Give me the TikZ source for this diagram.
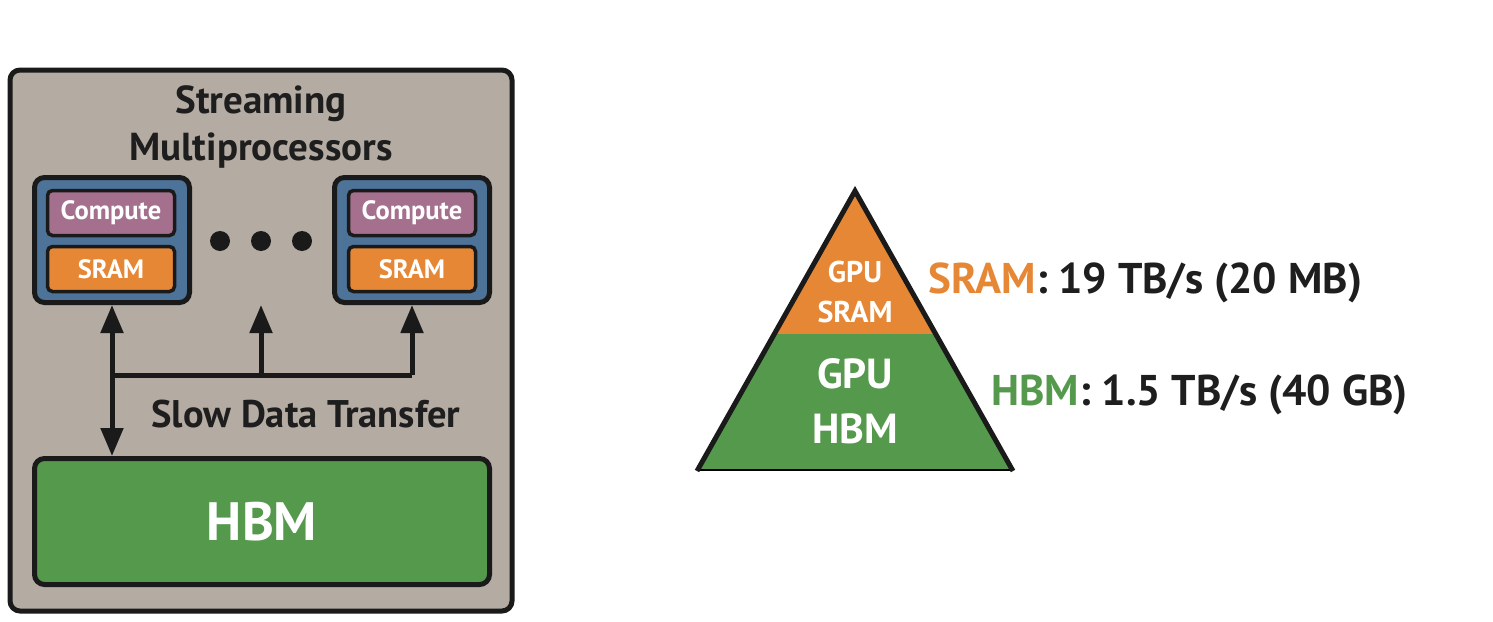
\documentclass[tikz,border=0pt]{standalone}
\usepackage{fontspec}
\setmainfont{PT Sans}
\usepackage{tikz}
\usetikzlibrary{arrows.meta}
\usetikzlibrary{positioning}

\definecolor{gpugrey}{RGB}{180,171,162}
\definecolor{smblue}{RGB}{78,115,153}
\definecolor{cmppurple}{RGB}{165,112,142}
\definecolor{sramorange}{RGB}{230,135,53}
\definecolor{hbmgreen}{RGB}{85,153,77}
\definecolor{linecol}{RGB}{26,26,26}
\definecolor{txtcol}{RGB}{30,30,30}
\definecolor{baseline}{RGB}{110,170,175}

\begin{document}
\begin{tikzpicture}
	[
	x=1pt, y=-1pt,
	> = {Triangle[width=22pt,length=28pt]},
	frame/.style = {draw=linecol, line width=5pt, rounded corners=10pt},
	unit/.style = {draw=linecol, line width=3.5pt, rounded corners=5pt, minimum width=127pt, minimum height=45pt, inner sep=0pt, text=white, font=\bfseries\fontsize{26.5}{30}\selectfont},
	dot/.style = {circle, fill=linecol, minimum size=20pt, inner sep=0pt},
	label/.style = {text=txtcol, font=\bfseries\fontsize{38.5}{47}\selectfont},
	rate/.style = {text=txtcol, anchor=base west, font=\bfseries\fontsize{43}{48}\selectfont},
	bus/.style = {draw=linecol, line width=5pt}
	]
	\useasboundingbox (0,0) rectangle (1493,621);

	% GPU with streaming multiprocessors
	\node[frame, fill=gpugrey, minimum width=502pt, minimum height=541pt] (gpu) at (261,340.5) {};
	\node[label, align=center, anchor=base, font=\bfseries\fontsize{39}{47}\selectfont] (title) at (261,160) {Streaming\\Multiprocessors};

	\node[frame, fill=smblue, minimum width=155pt, minimum height=125pt] (smA) at (112,240) {};
	\node[unit, fill=cmppurple] (cmpA) at (111,213) {Compute};
	\node[unit, fill=sramorange] (sramA) at (111,269) {SRAM};

	\node[frame, fill=smblue, minimum width=155pt, minimum height=125pt] (smB) at (412,240) {};
	\node[unit, fill=cmppurple] (cmpB) at (412,213) {Compute};
	\node[unit, fill=sramorange] (sramB) at (412,269) {SRAM};

	\node[dot] (dotA) at (220,241) {};
	\node[dot] (dotB) at (261,241) {};
	\node[dot] (dotC) at (302,241) {};

	\node[frame, fill=hbmgreen, minimum width=455pt, minimum height=126pt, text=white, font=\bfseries\fontsize{54}{60}\selectfont] (hbm) at (262,521.5) {HBM};

	\coordinate (busA) at (smA.south |- 0,375);
	\coordinate (busB) at (smB.south |- 0,375);
	\draw[bus, <->] (smA.south) -- (smA.south |- hbm.north);
	\draw[bus] (busA) -- (busB);
	\draw[bus, ->] (busA -| dotB) -- (dotB |- smA.south);
	\draw[bus, ->] (busB) -- (smB.south);
	\node[label, anchor=base west] (slow) at (148,427) {Slow Data Transfer};

	% memory hierarchy
	\fill[sramorange] (855,193) -- (935.4,334) -- (774.6,334) -- cycle;
	\fill[hbmgreen] (774.6,334) -- (935.4,334) -- (1013,470) -- (697,470) -- cycle;
	\draw[baseline, line width=1.5pt] (697,470) -- (1013,470);
	\draw[linecol, line width=5pt] (697,471) -- (855,191) -- (1013,471);

	\node[text=white, align=center, anchor=base, font=\bfseries\fontsize{30}{40}\selectfont] (pyrsram) at (855,322) {GPU\\SRAM};
	\node[text=white, align=center, anchor=base, font=\bfseries\fontsize{42}{55}\selectfont] (pyrhbm) at (855,443) {GPU\\HBM};

	\node[rate] (sramrate) at (925,293) {\textcolor{sramorange}{SRAM}: 19 TB/s (20 MB)};
	\node[rate] (hbmrate) at (988,405) {\textcolor{hbmgreen}{HBM}: 1.5 TB/s (40 GB)};
\end{tikzpicture}
\end{document}
